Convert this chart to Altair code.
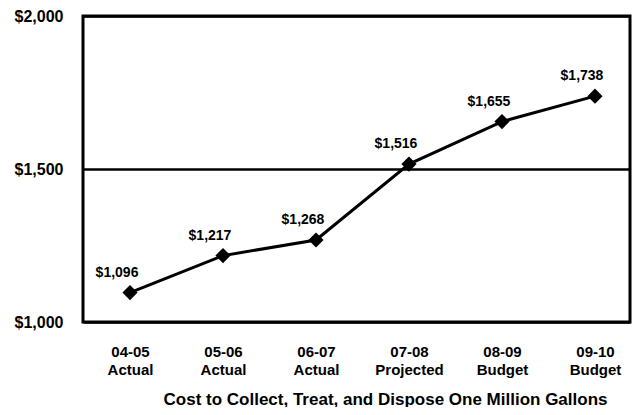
import altair as alt
import pandas as pd

periods = ["04-05|Actual", "05-06|Actual", "06-07|Actual", "07-08|Projected", "08-09|Budget", "09-10|Budget"]
costs = [1096, 1217, 1268, 1516, 1655, 1738]
y_ticks = [1000, 1500, 2000]
x_title = "Cost to Collect, Treat, and Dispose One Million Gallons"

df = pd.DataFrame({"period": periods, "cost": costs})

FONT = "Liberation Sans"

x_enc = alt.X(
    "period:N",
    sort=periods,
    scale=alt.Scale(type="point", padding=0.441, align=0.573),
    axis=alt.Axis(
        title=x_title,
        labelExpr="split(datum.label, '|')",
        labelAngle=0,
        labelFont=FONT,
        labelFontSize=15,
        labelFontWeight="bold",
        labelColor="black",
        labelLineHeight=18,
        labelPadding=22,
        ticks=False,
        domain=False,
        titleFont=FONT,
        titleFontSize=17,
        titleFontWeight="bold",
        titleColor="black",
        titleX=302,
        titleY=82,
        titleBaseline="alphabetic",
    ),
)
y_enc = alt.Y(
    "cost:Q",
    scale=alt.Scale(domain=[1000, 2000]),
    axis=alt.Axis(
        title=None,
        values=y_ticks,
        format="$,.0f",
        labelFont=FONT,
        labelFontSize=16,
        labelFontWeight="bold",
        labelColor="black",
        labelPadding=20,
        tickSize=0,
        domain=False,
        grid=True,
        gridColor="black",
        gridWidth=2.5,
        gridOpacity=1,
    ),
)

base = alt.Chart(df).encode(x=x_enc, y=y_enc)

line = base.mark_line(color="black", strokeWidth=3)
pts = base.mark_point(shape="diamond", filled=True, color="black", size=230, opacity=1)
labels = base.mark_text(
    dx=-13, dy=-20, font=FONT, fontSize=14, fontWeight="bold", color="black"
).encode(text=alt.Text("cost:Q", format="$,.0f"))

chart = (
    alt.layer(line, pts, labels)
    .properties(
        width=547,
        height=306,
        autosize=alt.AutoSizeParams(type="none"),
        padding={"left": 75, "top": 8, "right": 2, "bottom": 85},
        background="white",
    )
    .configure_view(stroke="black", strokeWidth=3)
)

chart.save("out.html", embed_options={"renderer": "svg", "actions": False})
